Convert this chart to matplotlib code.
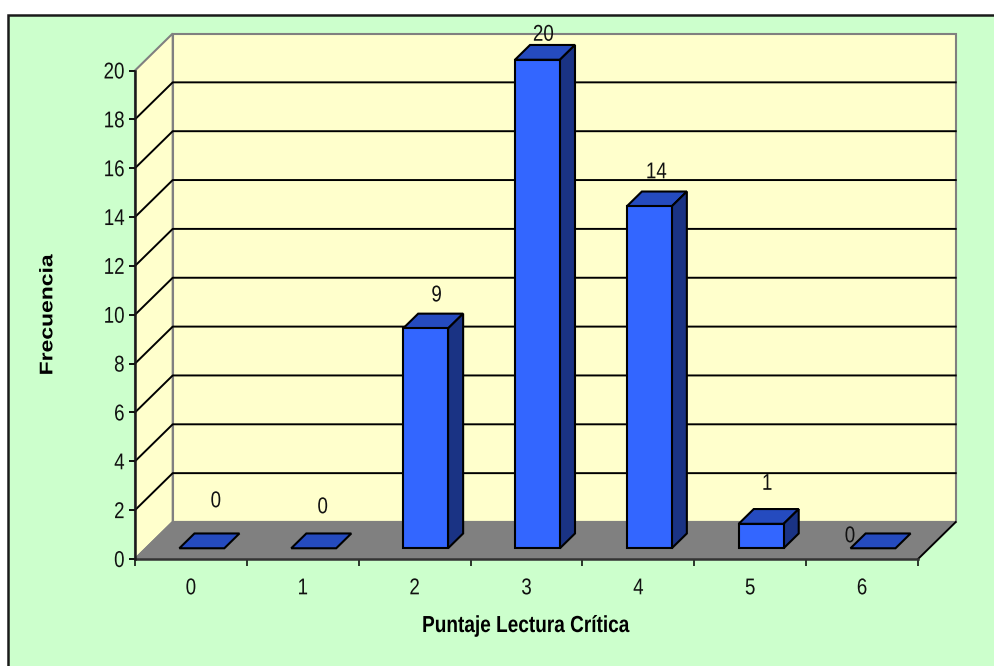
import matplotlib
matplotlib.use("Agg")
import matplotlib.pyplot as plt
from matplotlib.patches import Polygon, Rectangle
from matplotlib.patheffects import AbstractPathEffect
from matplotlib.transforms import Affine2D

plt.rcParams["font.family"] = ["Liberation Sans", "DejaVu Sans"]

categories = ["0", "1", "2", "3", "4", "5", "6"]
frecuencia = [0, 0, 9, 20, 14, 1, 0]
y_ticks = [0, 2, 4, 6, 8, 10, 12, 14, 16, 18, 20]
x_title = "Puntaje Lectura Crítica"
y_title = "Frecuencia"

# label offsets from the top of each bar, in pixels
label_dx = [14, 9, 11, 6, 7, 6, -23]
label_dy = [47, 41, 33, 25, 34, 40, 12]

W, H = 995, 666
LEFT, RIGHT, BOTTOM, TOP = 135, 918, 559, 70.5

# oblique depth of the floor, in axis units
DEPTH_X = 37.7 / ((RIGHT - LEFT) / 7)
DEPTH_Y = 37 / ((BOTTOM - TOP) / 20)
BAR_W = 0.402
BAR_FRONT = 0.29
BAR_BACK = 0.69


def skew(x, y, d):
    return (x + d * DEPTH_X, y + d * DEPTH_Y)


class Tall(AbstractPathEffect):
    # stretches glyphs along their height, about the middle of the cap height
    def __init__(self, factor):
        super().__init__()
        self.factor = factor

    def draw_path(self, renderer, gc, tpath, affine, rgbFace=None):
        t = Affine2D().translate(0, -36).scale(1, self.factor).translate(0, 36)
        renderer.draw_path(gc, tpath, t + affine, rgbFace)


tall_digits = [Tall(1.22)]

fig = plt.figure(figsize=(W / 100, H / 100), dpi=100, facecolor="white")
# green panel runs off the right and bottom edges, only top and left are outlined
fig.add_artist(Rectangle((8 / W, -0.1), 1.1, 1.1 - 14.5 / H, transform=fig.transFigure,
                         facecolor="#CCFFCC", edgecolor="#1A1A1A", linewidth=1.8, zorder=-1))

ax = fig.add_axes([LEFT / W, 1 - BOTTOM / H, (RIGHT - LEFT) / W, (BOTTOM - TOP) / H])
ax.set_xlim(-0.5, 6.5)
ax.set_ylim(0, 20)
ax.patch.set_visible(False)
for s in ax.spines.values():
    s.set_visible(False)

x0, x1 = -0.5, 6.5
gray = "#808080"

# walls and floor
ax.add_patch(Polygon([skew(x0, 0, 1), skew(x1, 0, 1), skew(x1, 20, 1), skew(x0, 20, 1)],
                     facecolor="#FFFFCC", edgecolor=gray, linewidth=1.5, clip_on=False, zorder=1))
ax.add_patch(Polygon([skew(x0, 0, 0), skew(x0, 0, 1), skew(x0, 20, 1), skew(x0, 20, 0)],
                     facecolor="#FFFFCC", edgecolor=gray, linewidth=1.5, clip_on=False, zorder=1))
ax.add_patch(Polygon([skew(x0, 0, 0), skew(x1, 0, 0), skew(x1, 0, 1), skew(x0, 0, 1)],
                     facecolor=gray, edgecolor=gray, linewidth=1.5, clip_on=False, zorder=1))
ax.plot(*zip(skew(x1, 0, 0), skew(x1, 0, 1)), color="black", lw=1.3, clip_on=False, zorder=2)

# gridlines run along the side wall and the back wall
for v in y_ticks[1:-1]:
    pts = [skew(x0, v, 0), skew(x0, v, 1), skew(x1, v, 1)]
    ax.plot(*zip(*pts), color="black", lw=1.4, clip_on=False, zorder=2)

# 3D bars
for i, v in enumerate(frecuencia):
    l, r = i - BAR_W / 2, i + BAR_W / 2
    top = [skew(l, v, BAR_FRONT), skew(r, v, BAR_FRONT), skew(r, v, BAR_BACK), skew(l, v, BAR_BACK)]
    ax.add_patch(Polygon(top, facecolor="#254BBF", edgecolor="black", lw=1.5, clip_on=False, zorder=3))
    if v > 0:
        side = [skew(r, 0, BAR_FRONT), skew(r, 0, BAR_BACK), skew(r, v, BAR_BACK), skew(r, v, BAR_FRONT)]
        front = [skew(l, 0, BAR_FRONT), skew(r, 0, BAR_FRONT), skew(r, v, BAR_FRONT), skew(l, v, BAR_FRONT)]
        ax.add_patch(Polygon(side, facecolor="#1A3384", edgecolor="black", lw=1.5, clip_on=False, zorder=3))
        ax.add_patch(Polygon(front, facecolor="#3366FF", edgecolor="black", lw=1.5, clip_on=False, zorder=3))
    ax.annotate(str(v), xy=skew(i, v, BAR_FRONT), xytext=(label_dx[i], label_dy[i]),
                textcoords="offset pixels", ha="center", va="center", fontsize=13.5,
                color="#111111", annotation_clip=False, zorder=4, path_effects=tall_digits)

# axes drawn on the front edge
ax.plot([x0, x0], [0, 20], color="#1A1A1A", lw=1.8, clip_on=False, zorder=5)
ax.plot([x0, x1], [0, 0], color="#333333", lw=1.8, clip_on=False, zorder=2)

ax.set_yticks(y_ticks)
ax.tick_params(axis="y", direction="out", length=4, width=1.3, labelsize=13.5, pad=3.5)
ax.set_xticks([i - 0.5 for i in range(8)])
ax.set_xticklabels([])
ax.set_xticks(range(7), categories, minor=True)
ax.tick_params(axis="x", which="major", direction="out", length=5, width=1.1)
ax.tick_params(axis="x", which="minor", length=0, labelsize=13.5, pad=15)
for lab in ax.get_yticklabels() + ax.get_xticklabels(minor=True):
    lab.set_path_effects(tall_digits)
    lab.set_color("#111111")

fig.text(525.5 / W, 1 - 626 / H, x_title, fontweight="bold", fontsize=13.7,
         ha="center", va="center", path_effects=[Tall(1.22)])
fig.text(47.5 / W, 1 - 315 / H, y_title, fontweight="bold", fontsize=16.5,
         rotation=90, ha="center", va="center", path_effects=[Tall(0.8)])

fig.savefig("out.png", dpi=100)
